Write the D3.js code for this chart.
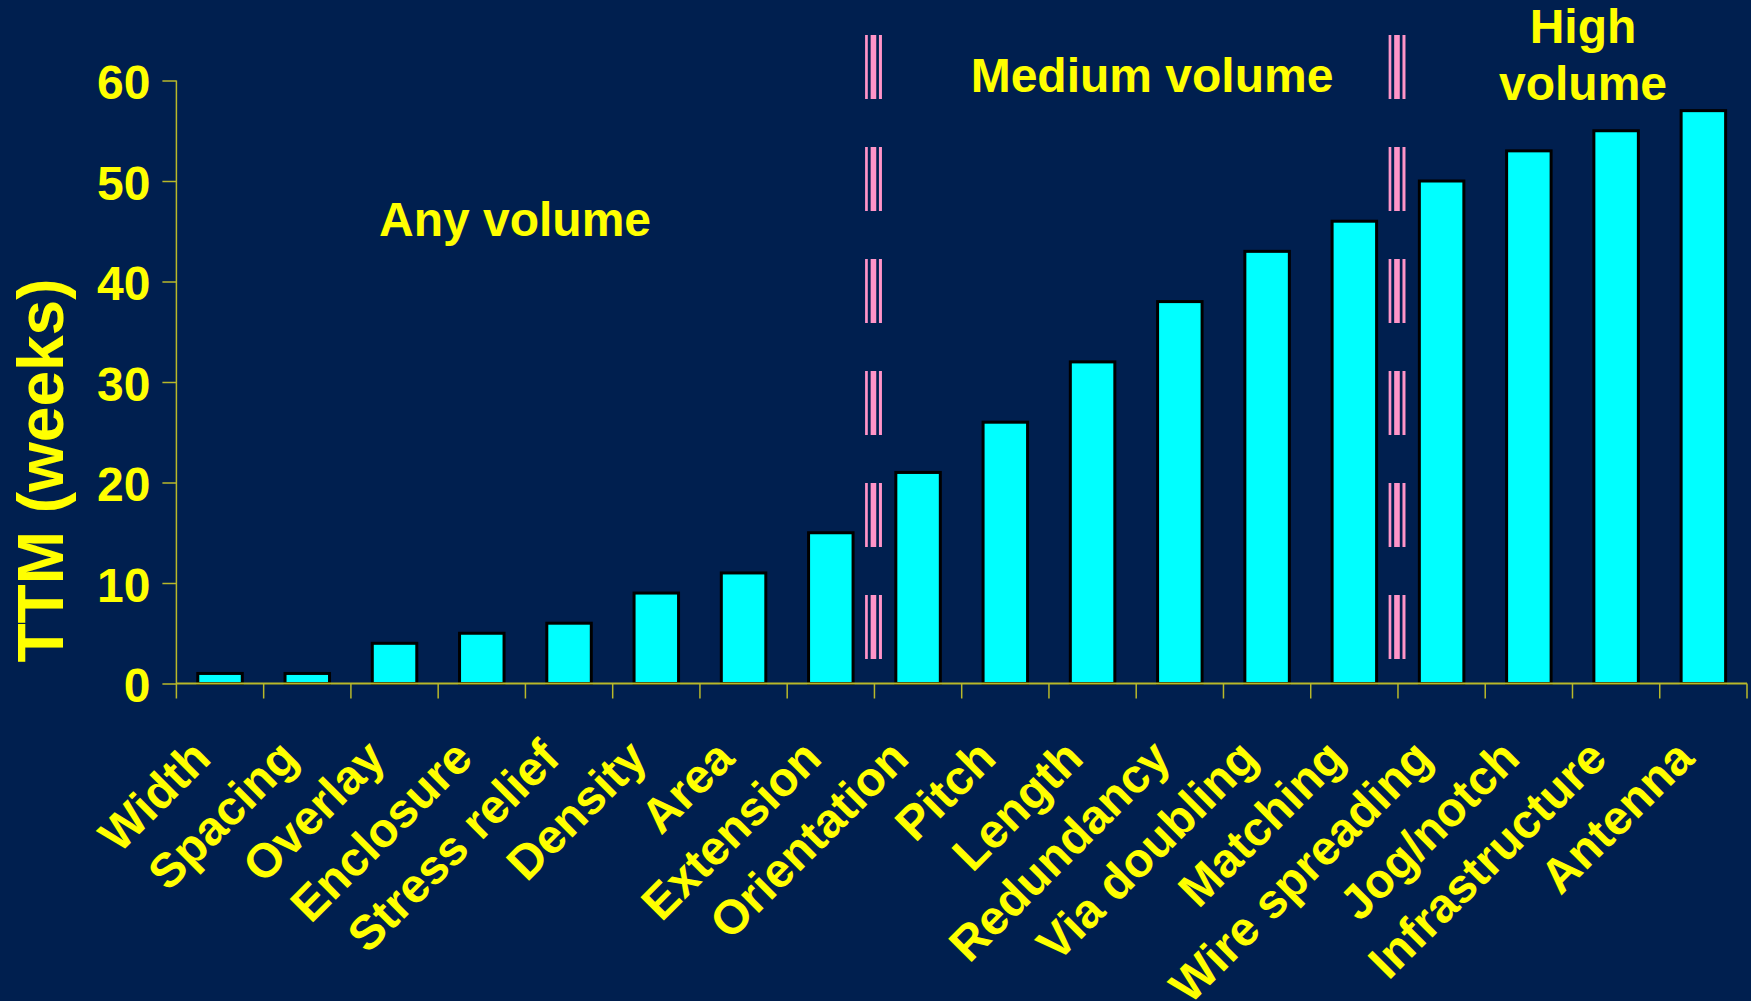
<!DOCTYPE html>
<html>
<head>
<meta charset="utf-8">
<script src="https://cdn.jsdelivr.net/npm/d3@7"></script>
<style>
  html, body { margin: 0; padding: 0; background: #001f4f; }
  svg { display: block; }
  text { font-family: "Liberation Sans", Arial, Helvetica, sans-serif; font-weight: bold; fill: #ffff00; }
</style>
</head>
<body>
<svg id="chart" width="1751" height="1001"></svg>
<script>
// Time to market (weeks) for each layout rule / DFM feature
const categories = ["Width", "Spacing", "Overlay", "Enclosure", "Stress relief", "Density",
  "Area", "Extension", "Orientation", "Pitch", "Length", "Redundancy", "Via doubling",
  "Matching", "Wire spreading", "Jog/notch", "Infrastructure", "Antenna"];
const ttmWeeks = [1, 1, 4, 5, 6, 9, 11, 15, 21, 26, 32, 38, 43, 46, 50, 53, 55, 57];
const yTicks = [0, 10, 20, 30, 40, 50, 60];

// Volume regimes: dashed separators follow these categories
const dividerAfter = ["Extension", "Matching"];
const regionLines = [["Any volume"], ["Medium volume"], ["High", "volume"]];

const W = 1751, H = 1001;
const svg = d3.select("#chart");
svg.append("rect").attr("width", W).attr("height", H).attr("fill", "#001f4f");

const x0 = 176.4, x1 = 1747, yTop = 80.5, yBase = 683.5;
const axisColor = "#b8b82a";

const x = d3.scaleBand().domain(categories).range([x0, x1]).paddingInner(0.49).paddingOuter(0.245);
const y = d3.scaleLinear().domain([0, 60]).range([yBase, yTop]);
const step = x.step();

// Bars
svg.append("g").selectAll("rect").data(categories).join("rect")
  .attr("x", d => x(d))
  .attr("y", (d, i) => y(ttmWeeks[i]))
  .attr("width", x.bandwidth())
  .attr("height", (d, i) => y(0) - y(ttmWeeks[i]))
  .attr("fill", "#00ffff")
  .attr("stroke", "#000000")
  .attr("stroke-width", 3);

// Dashed triple-line separators between volume regimes
const divG = svg.append("g");
dividerAfter.forEach(name => {
  const c = x(name) + x.bandwidth() + step * 0.49 / 2 - 1;
  [[-7, 2.7], [0, 5.6], [7, 3]].forEach(([off, w]) => {
    divG.append("line")
      .attr("x1", c + off).attr("x2", c + off)
      .attr("y1", 35).attr("y2", 660)
      .attr("stroke", "#ff94c8")
      .attr("stroke-width", w)
      .attr("stroke-dasharray", "64 48");
  });
});

// Y axis
const yAxis = d3.axisLeft(y).tickValues(yTicks).tickSize(14).tickSizeOuter(0).tickPadding(12);
const gy = svg.append("g").attr("transform", `translate(${x0},0)`).call(yAxis);
gy.select(".domain").remove();
gy.selectAll(".tick line").attr("stroke", axisColor).attr("stroke-width", 1.5);
gy.selectAll(".tick text")
  .attr("font-size", 48).attr("font-family", "Liberation Sans, Arial, sans-serif")
  .attr("font-weight", "bold").attr("fill", "#ffff00")
  .attr("dy", "0.385em");
svg.append("line")
  .attr("x1", x0).attr("x2", x0).attr("y1", yTop).attr("y2", yBase + 15)
  .attr("stroke", axisColor).attr("stroke-width", 1.5);

// X axis: baseline plus boundary ticks between categories
svg.append("line")
  .attr("x1", x0).attr("x2", x1).attr("y1", yBase).attr("y2", yBase)
  .attr("stroke", axisColor).attr("stroke-width", 2);
const boundaries = d3.range(1, categories.length + 1).map(i => x0 + i * step);
svg.append("g").selectAll("line").data(boundaries).join("line")
  .attr("x1", d => d).attr("x2", d => d)
  .attr("y1", yBase).attr("y2", yBase + 15)
  .attr("stroke", axisColor).attr("stroke-width", 1.5);

// Rotated category labels
svg.append("g").selectAll("text").data(categories).join("text")
  .attr("transform", d => `translate(${x(d) + x.bandwidth() / 2 - 7},${yBase + 77}) rotate(-45)`)
  .attr("text-anchor", "end")
  .attr("font-size", 48)
  .text(d => d);

// Y axis title
svg.append("text")
  .attr("transform", "translate(63,470.5) rotate(-90)")
  .attr("text-anchor", "middle")
  .attr("font-size", 64)
  .text("TTM (weeks)");

// Region titles
const regionPos = [[515, [236]], [1152, [91.7]], [1583, [43.3, 100]]];
regionLines.forEach((lines, i) => {
  const [cx, ys] = regionPos[i];
  lines.forEach((t, j) => {
    svg.append("text")
      .attr("x", cx).attr("y", ys[j])
      .attr("text-anchor", "middle")
      .attr("font-size", 48)
      .text(t);
  });
});
</script>
</body>
</html>
